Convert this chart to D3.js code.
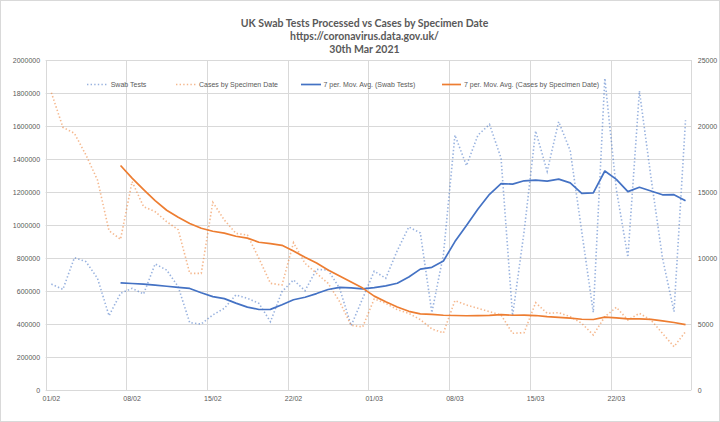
<!DOCTYPE html>
<html><head><meta charset="utf-8">
<script src="https://cdn.jsdelivr.net/npm/d3@7"></script>
<style>body{margin:0;background:#fff} svg{display:block}</style>
</head><body>
<svg id="c" width="720" height="422"></svg>
<script>
const dates = ["01/02","02/02","03/02","04/02","05/02","06/02","07/02",
  "08/02","09/02","10/02","11/02","12/02","13/02","14/02",
  "15/02","16/02","17/02","18/02","19/02","20/02","21/02",
  "22/02","23/02","24/02","25/02","26/02","27/02","28/02",
  "01/03","02/03","03/03","04/03","05/03","06/03","07/03",
  "08/03","09/03","10/03","11/03","12/03","13/03","14/03",
  "15/03","16/03","17/03","18/03","19/03","20/03","21/03",
  "22/03","23/03","24/03","25/03","26/03","27/03","28/03"];
const swabTests = [642000,610000,802000,778000,677000,450000,586000,
  616000,582000,764000,727000,626000,408000,400000,
  455000,495000,576000,556000,525000,414000,596000,
  667000,602000,731000,727000,616000,390000,555000,
  720000,677000,845000,988000,952000,469000,820000,
  1545000,1360000,1545000,1610000,1405000,450000,960000,
  1570000,1325000,1626000,1450000,960000,470000,1889000,
  1215000,805000,1812000,1290000,800000,475000,1635000];
const cases = [22523,19900,19445,17803,15909,12070,11414,
  15783,13890,13510,12750,12150,8838,8838,
  14220,12879,11870,11742,9975,8080,7955,
  11162,9596,8838,8080,6690,4900,4780,
  6900,6566,6080,5808,5330,4630,4320,
  6780,6439,6187,5934,5682,4293,4343,
  6616,5808,5859,5556,5050,4167,5556,
  6263,5303,5808,5303,4293,3283,4419];
const leftTicks = [0,200000,400000,600000,800000,1000000,1200000,1400000,1600000,1800000,2000000];
const rightTicks = [0,5000,10000,15000,20000,25000];
const xTickLabels = ["01/02","08/02","15/02","22/02","01/03","08/03","15/03","22/03"];
const titleLines = ["UK Swab Tests Processed vs Cases by Specimen Date","https://coronavirus.data.gov.uk/","30th Mar 2021"];
const legendLabels = ["Swab Tests","Cases by Specimen Date","7 per. Mov. Avg. (Swab Tests)","7 per. Mov. Avg. (Cases by Specimen Date)"];
const maPeriod = 7;

const BLUE = "#4472C4", ORANGE = "#ED7D31", GRID = "#d9d9d9", TXT = "#595959";
const pl = 45.6, pr = 691.3, pt = 60, pb = 390;
const svg = d3.select("#c");
svg.append("rect").attr("x",0.5).attr("y",0.5).attr("width",719).attr("height",421)
  .attr("fill","#fff").attr("stroke",GRID);

const x = d3.scaleBand().domain(dates).range([pl,pr]).padding(0);
const yL = d3.scaleLinear().domain([0,2000000]).range([pb,pt]);
const yR = d3.scaleLinear().domain([0,25000]).range([pb,pt]);
const cx = d => x(d) + x.bandwidth()/2;

// gridlines
svg.append("g").selectAll("line").data(leftTicks).join("line")
  .attr("x1",pl).attr("x2",pr)
  .attr("y1",d=>Math.round(yL(d))+0.5).attr("y2",d=>Math.round(yL(d))+0.5)
  .attr("stroke",GRID).attr("stroke-width",1);
const vg = xTickLabels.map(d=>x(d)).concat([pr]);
svg.append("g").selectAll("line").data(vg).join("line")
  .attr("x1",d=>Math.round(d)+0.5).attr("x2",d=>Math.round(d)+0.5)
  .attr("y1",pt).attr("y2",pb)
  .attr("stroke",GRID).attr("stroke-width",1);

// axes
const fontFam = "'Liberation Sans', Arial, sans-serif";
function styleAxis(g){
  g.select(".domain").remove();
  g.selectAll("line").remove();
  g.selectAll("text").attr("fill",TXT).style("font-size","7px").style("font-family",fontFam);
}
svg.append("g").attr("transform",`translate(${pl},0)`)
  .call(d3.axisLeft(yL).tickValues(leftTicks).tickFormat(d3.format("d")).tickSize(0).tickPadding(5.5))
  .call(styleAxis);
svg.append("g").attr("transform",`translate(${pr},0)`)
  .call(d3.axisRight(yR).tickValues(rightTicks).tickFormat(d3.format("d")).tickSize(0).tickPadding(6.5))
  .call(styleAxis);
svg.append("g").attr("transform",`translate(0,${pb})`)
  .call(d3.axisBottom(x).tickValues(xTickLabels).tickSize(0).tickPadding(6.5))
  .call(styleAxis);

// moving average (Excel-style 7-period trendline)
function movAvg(vals, n){
  const out = [];
  for(let i=n-1;i<vals.length;i++){
    out.push({d:dates[i], v:d3.mean(vals.slice(i-n+1,i+1))});
  }
  return out;
}

const lineL = d3.line().x(d=>cx(d.d)).y(d=>yL(d.v));
const lineR = d3.line().x(d=>cx(d.d)).y(d=>yR(d.v));
const swabPts = dates.map((d,i)=>({d, v:swabTests[i]}));
const casePts = dates.map((d,i)=>({d, v:cases[i]}));

const dotted = {"stroke-width":1.6, "stroke-dasharray":"1.4,2.2", "stroke-linecap":"butt", "stroke-opacity":0.55};
function applyAttrs(sel, o){ for(const k in o) sel.attr(k,o[k]); return sel; }

applyAttrs(svg.append("path").datum(swabPts).attr("d",lineL).attr("fill","none").attr("stroke",BLUE), dotted);
applyAttrs(svg.append("path").datum(casePts).attr("d",lineR).attr("fill","none").attr("stroke",ORANGE), dotted);
svg.append("path").datum(movAvg(swabTests,maPeriod)).attr("d",lineL).attr("fill","none")
  .attr("stroke",BLUE).attr("stroke-width",1.7).attr("stroke-linejoin","round");
svg.append("path").datum(movAvg(cases,maPeriod)).attr("d",lineR).attr("fill","none")
  .attr("stroke",ORANGE).attr("stroke-width",1.7).attr("stroke-linejoin","round");

// title
const tg = svg.append("g");
[23,36,49].forEach((yy,i)=>{
  tg.append("text").attr("x",364.5).attr("y",yy).attr("dy","0.35em")
    .attr("text-anchor","middle").attr("fill",TXT)
    .style("font-family","Lato, 'Open Sans', sans-serif").style("font-weight","700").style("font-size","10.5px")
    .text(titleLines[i]);
});

// legend
const legY = 84.5;
const legItems = [
  {x1:87,x2:108,tx:110.7,c:BLUE,dot:true},
  {x1:176,x2:197,tx:199,c:ORANGE,dot:true},
  {x1:301,x2:321,tx:323.5,c:BLUE,dot:false},
  {x1:442,x2:461,tx:464,c:ORANGE,dot:false}
];
legItems.forEach((it,i)=>{
  const ln = svg.append("line").attr("x1",it.x1).attr("x2",it.x2).attr("y1",legY).attr("y2",legY).attr("stroke",it.c);
  if(it.dot) applyAttrs(ln, dotted); else ln.attr("stroke-width",1.7);
  svg.append("text").attr("x",it.tx).attr("y",legY).attr("dy","0.35em").attr("fill",TXT)
    .style("font-size","7px").style("font-family",fontFam).text(legendLabels[i]);
});
</script>
</body></html>
